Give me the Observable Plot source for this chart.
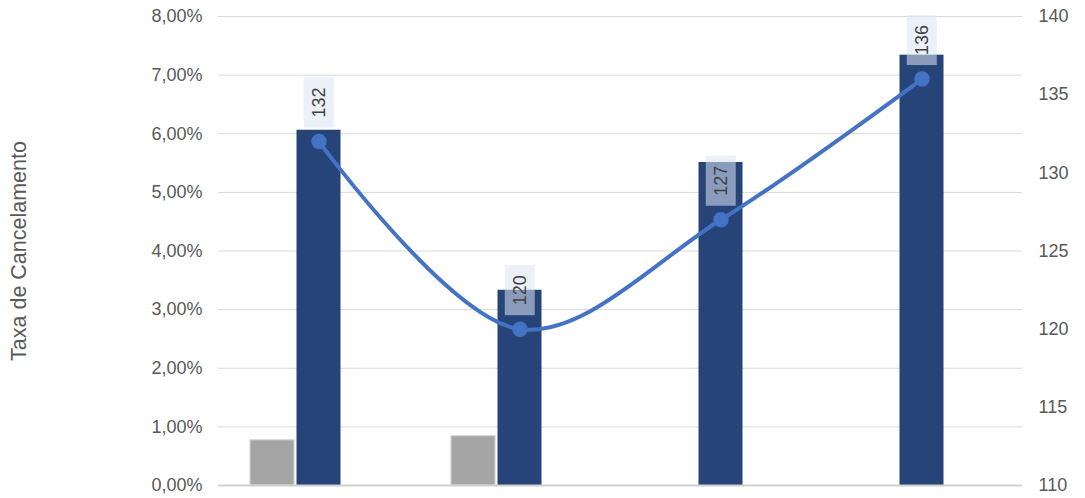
<!DOCTYPE html>
<html>
<head>
<meta charset="utf-8">
<script src="https://cdn.jsdelivr.net/npm/d3@7"></script>
<script src="https://cdn.jsdelivr.net/npm/@observablehq/plot@0.6"></script>
<style>
  html, body { margin: 0; padding: 0; background: #fff; }
  #chart svg { font-family: "Liberation Sans", Arial, sans-serif; }
</style>
</head>
<body>
<div id="chart"></div>
<script>
// ---- data ----
const categories = ["1", "2", "3", "4"];
const grayValues = [0.0077, 0.0084, null, null];      // left axis (%)
const blueValues = [0.0606, 0.0333, 0.0551, 0.0734];  // left axis (%)
const lineValues = [132, 120, 127, 136];              // right axis
const leftTicks = [0, 0.01, 0.02, 0.03, 0.04, 0.05, 0.06, 0.07, 0.08];
const rightTicks = [110, 115, 120, 125, 130, 135, 140];
const yTitle = "Taxa de Cancelamento";

// right axis domain mapped onto the left one
const rightDomain = [110, 140];
const leftDomain = [0, 0.08];
const toLeft = d3.scaleLinear().domain(rightDomain).range(leftDomain);

const grayData = categories.map((c, i) => ({c, v: grayValues[i]})).filter(d => d.v != null);
const blueData = categories.map((c, i) => ({c, v: blueValues[i]}));
const lineData = categories.map((c, i) => ({c, v: lineValues[i], y: toLeft(lineValues[i])}));

const pct = d => (d * 100).toFixed(2).replace(".", ",") + "%";

const chart = Plot.plot({
  width: 1085,
  height: 498,
  marginLeft: 218,
  marginRight: 63,
  marginTop: 16,
  marginBottom: 13,
  style: {fontFamily: "Liberation Sans, Arial, sans-serif", fontSize: "18px", color: "#595959"},
  x: {domain: categories, padding: 0, axis: null},
  y: {domain: leftDomain},
  marks: [
    Plot.gridY(leftTicks, {stroke: "#d9d9d9", strokeOpacity: 1, strokeWidth: 1}),
    Plot.axisY(leftTicks, {
      anchor: "left", tickSize: 0, tickPadding: 16, tickFormat: pct,
      fill: "#595959", fontSize: 18, label: null
    }),
    Plot.axisY(leftTicks, {
      anchor: "left", tickSize: 0, tickFormat: () => "", fill: "#595959", fontSize: 21.5,
      label: yTitle, labelAnchor: "center", labelArrow: "none", labelOffset: 208
    }),
    Plot.axisY(rightTicks.map(toLeft), {
      anchor: "right", tickSize: 0, tickPadding: 16,
      tickFormat: d => String(Math.round(toLeft.invert(d))),
      fill: "#595959", fontSize: 18, label: null
    }),
    Plot.barY(grayData, {x: "c", y: "v", fill: "#A5A5A5", stroke: "#d0d0d0", strokeWidth: 1, insetLeft: 32, insetRight: 125}),
    Plot.barY(blueData, {x: "c", y: "v", fill: "#264478", insetLeft: 78.5, insetRight: 78.5}),
    Plot.ruleY([0], {stroke: "#d0d0d0", strokeWidth: 2}),
    Plot.line(lineData, {x: "c", y: "y", stroke: "#4472C4", strokeWidth: 4, curve: "catmull-rom"}),
    Plot.dot(lineData, {x: "c", y: "y", r: 7, fill: "#4472C4", stroke: "#4472C4"}),
    Plot.text(lineData, {
      x: "c", y: "y", text: d => String(d.v), rotate: -90, dy: -39,
      fill: "#404040", fontSize: 18, className: "vlabel"
    })
  ]
});

document.getElementById("chart").appendChild(chart);

// background boxes behind the value labels, sized from rendered text
const svg = d3.select(chart);
svg.selectAll("g.vlabel text").each(function () {
  const bb = this.getBBox();
  const m = chart.getScreenCTM().inverse().multiply(this.getScreenCTM());
  const pts = [[bb.x, bb.y], [bb.x + bb.width, bb.y], [bb.x, bb.y + bb.height], [bb.x + bb.width, bb.y + bb.height]].map(([x, y]) => {
    const p = chart.createSVGPoint(); p.x = x; p.y = y;
    return p.matrixTransform(m);
  });
  const xs = pts.map(p => p.x), ys = pts.map(p => p.y);
  const x0 = Math.min(...xs), x1 = Math.max(...xs), y0 = Math.min(...ys), y1 = Math.max(...ys);
  const padX = 5, padY = 10;
  const g = this.parentNode;
  d3.select(g.parentNode).insert("rect", () => g)
    .attr("x", x0 - padX).attr("y", y0 - padY)
    .attr("width", x1 - x0 + 2 * padX).attr("height", y1 - y0 + 2 * padY)
    .attr("fill", "#DCE4F2").attr("fill-opacity", 0.55);
});
</script>
</body>
</html>
